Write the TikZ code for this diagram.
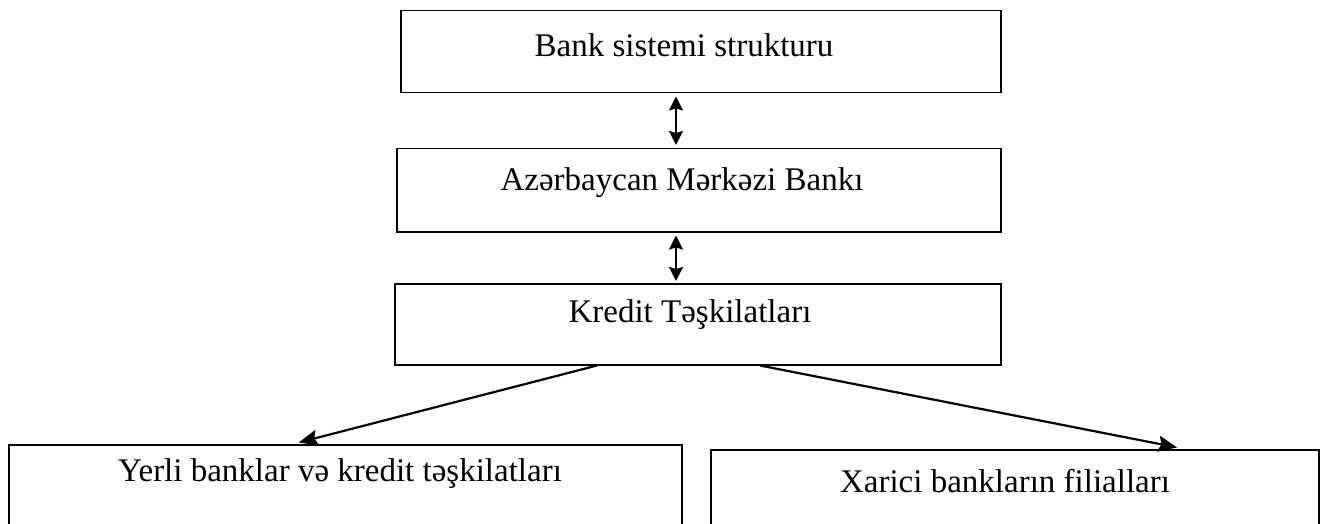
\documentclass[tikz,border=0pt]{standalone}
\usepackage{fontspec}
\setmainfont{Liberation Serif}
\usetikzlibrary{arrows.meta}

\tikzset{
  box/.style={draw, line width=1.5pt, anchor=north west, inner sep=0pt},
  lbl/.style={font=\fontsize{33}{40}\selectfont, inner sep=0pt},
  twoway/.style={line width=2.2pt, {Stealth[length=14pt,width=14pt,inset=2pt]}-{Stealth[length=14pt,width=14pt,inset=2pt]}},
  down/.style={line width=2.2pt, -{Stealth[length=19pt,width=16pt,inset=3pt]}}
}

\begin{document}
\begin{tikzpicture}[x=1pt,y=-1pt]
            \useasboundingbox (0,0) rectangle (1326,524);
            \clip (0,0) rectangle (1326,524);

            % boxes
            \node[box, minimum width=600, minimum height=82] (bs) at (400,10) {};
            \node[box, minimum width=604, minimum height=83] (mb) at (396,148) {};
            \node[box, minimum width=606, minimum height=81] (kt) at (394,283) {};
            \node[box, minimum width=673, minimum height=120] (yb) at (8,444) {};
            \node[box, minimum width=608, minimum height=120] (xb) at (710,449) {};

            \node[lbl] (bstxt) at (684,45) {Bank sistemi strukturu};
            \node[lbl] (mbtxt) at (682,183) {Azərbaycan Mərkəzi Bankı};
            \node[lbl] (kttxt) at (690,315) {Kredit Təşkilatları};
            \node[lbl] (ybtxt) at (340,474) {Yerli banklar və kredit təşkilatları};
            \node[lbl] (xbtxt) at (1005,481) {Xarici bankların filialları};

            \coordinate (ax) at (676,0);
            \draw[twoway, shorten <=3pt, shorten >=3pt] (bs.south -| ax) -- (mb.north -| ax);
            \draw[twoway, shorten <=3pt, shorten >=2pt] (mb.south -| ax) -- (kt.north -| ax);

            \draw[down, shorten >=6pt] ([xshift=203pt]kt.south west) -- ([xshift=285pt]yb.north west);
            \draw[down, shorten >=8pt] ([xshift=366pt]kt.south west) -- ([xshift=475pt]xb.north west);
\end{tikzpicture}
\end{document}
